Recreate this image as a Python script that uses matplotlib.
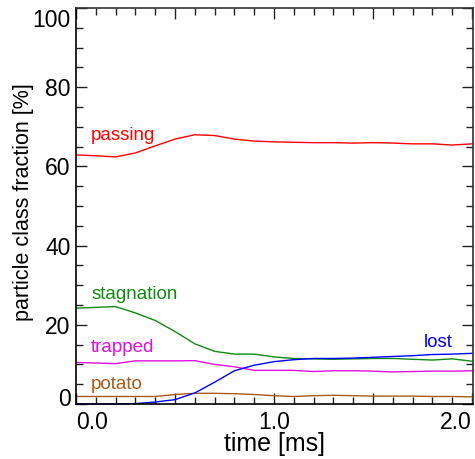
import matplotlib
matplotlib.use("Agg")
import matplotlib.pyplot as plt
from matplotlib.ticker import MultipleLocator, FuncFormatter

plt.rcParams['font.family'] = ['Liberation Sans', 'DejaVu Sans']

# time in ms, fractions in percent
time = [0.0, 0.1, 0.2, 0.3, 0.4, 0.5, 0.6, 0.7, 0.8, 0.9, 1.0,
        1.1, 1.2, 1.3, 1.4, 1.5, 1.6, 1.7, 1.8, 1.9, 2.0]
passing = [62.9, 62.7, 62.4, 63.4, 65.2, 66.9, 68.0, 67.8, 66.9, 66.4, 66.2,
           66.1, 66.0, 66.0, 65.9, 66.0, 65.9, 65.7, 65.7, 65.4, 65.7]
stagnation = [24.2, 24.4, 24.6, 23.0, 21.1, 18.3, 15.2, 13.3, 12.6, 12.6, 11.9,
              11.5, 11.4, 11.3, 11.4, 11.5, 11.5, 11.3, 11.1, 11.4, 10.8]
trapped = [10.5, 10.35, 10.2, 10.9, 10.9, 10.9, 10.95, 10.0, 9.4, 8.5, 8.5,
           8.5, 8.2, 8.4, 8.4, 8.3, 8.1, 8.2, 8.3, 8.3, 8.4]
lost = [0.0, 0.0, 0.0, 0.1, 0.5, 1.1, 2.8, 5.5, 8.4, 9.8, 10.7,
        11.2, 11.5, 11.5, 11.6, 11.8, 12.0, 12.2, 12.5, 12.6, 12.8]
potato = [1.9, 1.9, 1.9, 1.9, 1.9, 2.4, 2.7, 2.7, 2.6, 2.4, 2.1,
          1.9, 2.1, 2.2, 2.1, 2.0, 2.0, 2.0, 1.9, 1.9, 1.8]

c_pass = '#ff0000'
c_stag = '#108a10'
c_trap = '#e010e0'
c_lost = '#0000ff'
c_pot = '#a85a18'

ymin, ymax = 0, 100
tick_fs = 16.5

fig = plt.figure(figsize=(4.75, 4.59), dpi=100)
ax = fig.add_axes([0.16, 0.1198, 0.8358, 0.8627])

lw = 1.0
ax.plot(time, passing, color=c_pass, lw=lw)
ax.plot(time, stagnation, color=c_stag, lw=lw)
ax.plot(time, trapped, color=c_trap, lw=lw)
ax.plot(time, potato, color=c_pot, lw=lw)
ax.plot(time, lost, color=c_lost, lw=lw, clip_on=False)

fs = 13.5
ax.text(0.076, 67.9, 'passing', color=c_pass, fontsize=fs, va='center')
ax.text(0.076, 27.6, 'stagnation', color=c_stag, fontsize=fs, va='center')
ax.text(0.076, 14.2, 'trapped', color=c_trap, fontsize=fs, va='center')
ax.text(0.076, 4.9, 'potato', color=c_pot, fontsize=fs, va='center')
ax.text(1.904, 15.5, 'lost', color=c_lost, fontsize=fs, va='center', ha='right')

ax.set_xlim(0, 2.005)
ax.set_ylim(ymin, ymax)

ax.xaxis.set_major_locator(MultipleLocator(0.5))
ax.xaxis.set_minor_locator(MultipleLocator(0.1))
ax.xaxis.set_major_formatter(FuncFormatter(
    lambda v, p: '%.1f' % v if abs(v - round(v)) < 1e-6 else ''))
ax.yaxis.set_major_locator(MultipleLocator(20))
ax.yaxis.set_minor_locator(MultipleLocator(5))
# end labels of y are drawn separately, nudged inside the frame
ax.yaxis.set_major_formatter(FuncFormatter(
    lambda v, p: '' if v in (ymin, ymax) else '%d' % v))

ax.tick_params(which='both', direction='in', top=True, right=True,
               labelsize=tick_fs, color='#222222')
ax.tick_params(which='major', length=8, width=1.0)
ax.tick_params(which='minor', length=5, width=1.0)
ax.tick_params(axis='x', pad=5)
ax.tick_params(axis='y', pad=4)

yax = ('axes fraction', 'data')
ax.annotate('%d' % ymin, xy=(0, ymin), xycoords=yax, xytext=(-4, 5),
            textcoords='offset points', ha='right', va='center_baseline',
            fontsize=tick_fs)
ax.annotate('%d' % ymax, xy=(0, ymax), xycoords=yax, xytext=(-4, -7),
            textcoords='offset points', ha='right', va='center_baseline',
            fontsize=tick_fs)

for s in ax.spines.values():
    s.set_linewidth(1.2)
    s.set_color('#333333')
ax.spines['left'].set_color('black')
ax.spines['bottom'].set_color('black')

ax.set_xlabel('time [ms]', fontsize=18)
ax.set_ylabel('particle class fraction [%]', fontsize=15.5)
ax.xaxis.set_label_coords(0.5, -0.071)
ax.yaxis.set_label_coords(-0.106, 0.511)

# keep the end labels of x inside the frame
fig.canvas.draw()
xlabs = [t for t in ax.get_xticklabels() if t.get_text()]
xlabs[0].set_horizontalalignment('left')
xlabs[-1].set_horizontalalignment('right')

fig.savefig('out.png', dpi=100)
